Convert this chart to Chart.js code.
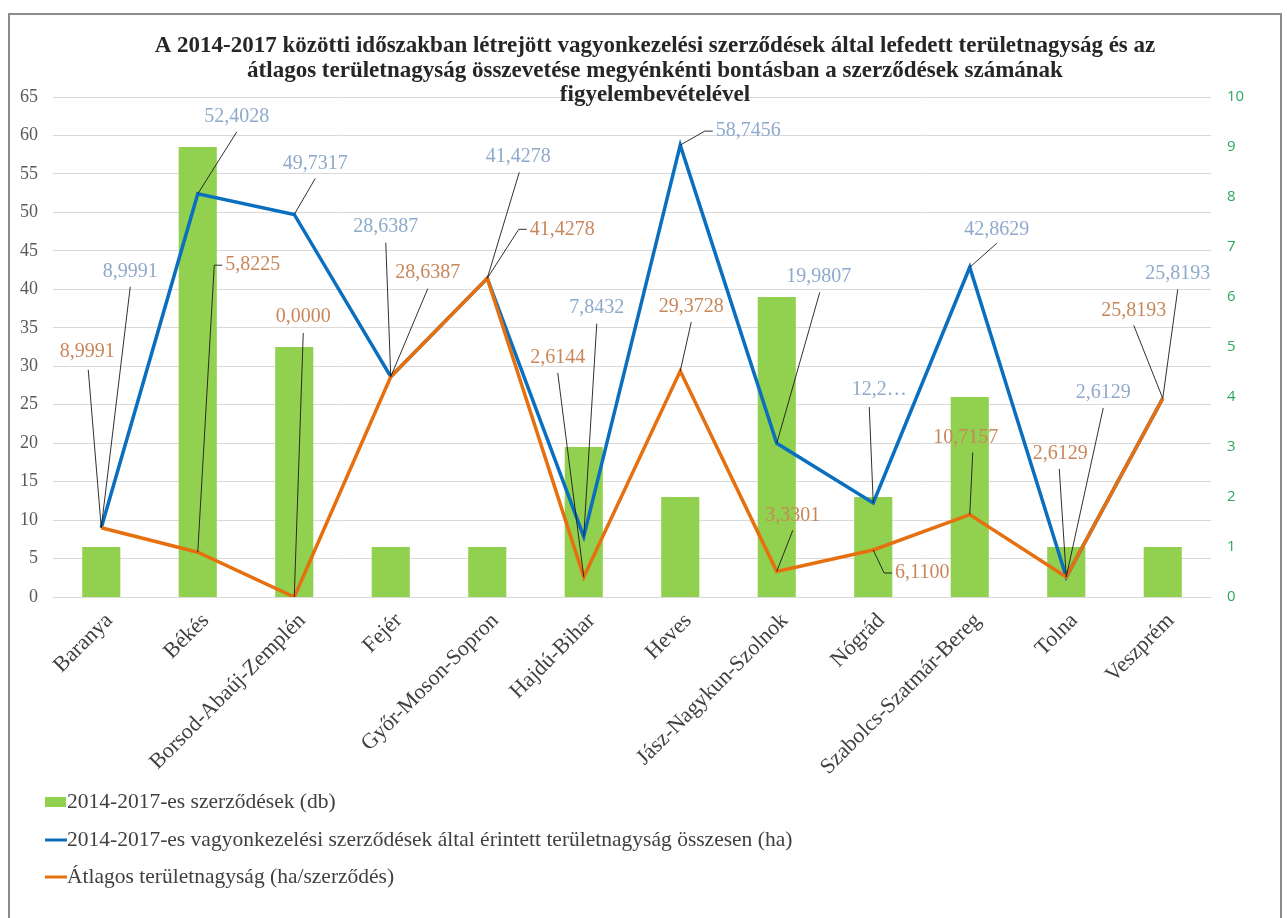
<!DOCTYPE html>
<html>
<head>
<meta charset="utf-8">
<script src="https://cdn.jsdelivr.net/npm/chart.js@4"></script>
<style>
html,body{margin:0;padding:0;background:#fff;}
canvas{display:block;}
</style>
</head>
<body>
<canvas id="c" width="1287" height="918"></canvas>
<script>
// ---- data ----
const categories = ['Baranya','Békés','Borsod-Abaúj-Zemplén','Fejér','Győr-Moson-Sopron','Hajdú-Bihar','Heves','Jász-Nagykun-Szolnok','Nógrád','Szabolcs-Szatmár-Bereg','Tolna','Veszprém'];
const contractCount = [1,9,5,1,1,3,2,6,2,4,1,1];
const totalArea = [8.9991,52.4028,49.7317,28.6387,41.4278,7.8432,58.7456,19.9807,12.22,42.8629,2.6129,25.8193];
const avgArea = [8.9991,5.8225,0.0000,28.6387,41.4278,2.6144,29.3728,3.3301,6.1100,10.7157,2.6129,25.8193];
const leftTicks = [0,5,10,15,20,25,30,35,40,45,50,55,60,65];
const rightTicks = [0,1,2,3,4,5,6,7,8,9,10];
const titleLines = ['A 2014-2017 közötti időszakban létrejött vagyonkezelési szerződések által lefedett területnagyság és az','átlagos területnagyság összevetése megyénkénti bontásban a szerződések számának','figyelembevételével'];
const seriesNames = ['2014-2017-es szerződések (db)','2014-2017-es vagyonkezelési szerződések által érintett területnagyság összesen (ha)','Átlagos területnagyság (ha/szerződés)'];
const blueLabelText = {8: '12,2…'};

// ---- label placement (offsets from the point, px) ----
// [dx, dy, leaderEndDx, leaderEndDy] ; leaderEnd null => elbow to label's left side
const blueLabelPos = [[29,-256,29,-241],[39,-77,39,-62],[21,-51,21,-36],[-5,-150,-5,-134],[31,-122,32,-106],[13,-229,13,-213],[68,-14,null,null],[42,-167,43,-151],[6,-113,-4,-96],[27,-38,27,-24],[37,-184,37,-169],[15,-125,15,-109]];
const orangeLabelPos = [[-14,-176,-13,-158],[55,-287,null,null],[9,-280,9,-264],[37,-104,37,-88],[75,-49,null,null],[-26,-219,-26,-204],[11,-64,11,-49],[16,-56,16,-41],[49,23,null,null],[-4,-77,3,-62],[-6,-123,-7,-108],[-29,-88,-29,-73]];

const SERIF = 'Liberation Serif';
const fmt = v => v.toFixed(4).replace('.', ',');

const framePlugin = {
  id:'frame',
  beforeDraw(chart){
    const c = chart.ctx;
    c.save();
    c.fillStyle='#fff'; c.fillRect(0,0,chart.width,chart.height);
    c.strokeStyle='#8c8c8c'; c.lineWidth=2;
    c.strokeRect(9,14,1272,940);
    c.restore();
  },
  afterDraw(chart){
    const c = chart.ctx;
    c.save();
    // title
    c.fillStyle='#262626';
    c.font = 'bold 23px "'+SERIF+'"';
    c.textAlign='center'; c.textBaseline='middle';
    const ty=[46,71,95];
    titleLines.forEach((t,i)=>c.fillText(t,655,ty[i]));
    // legend
    const ly=[802,840,877];
    const ds = chart.data.datasets;
    c.font = '21.5px "'+SERIF+'"';
    c.textAlign='left';
    ds.forEach((d,i)=>{
      if(d.type==='bar'){ c.fillStyle=d.backgroundColor; c.fillRect(45,ly[i]-5,21,10); }
      else { c.strokeStyle=d.borderColor; c.lineWidth=3; c.beginPath(); c.moveTo(45,ly[i]); c.lineTo(67,ly[i]); c.stroke(); }
      c.fillStyle='#404040';
      c.fillText(d.label,67,ly[i]);
    });
    c.restore();
  }
};

const labelPlugin = {
  id:'dlabels',
  afterDatasetsDraw(chart){
    const c = chart.ctx;
    c.save();
    c.font = '20px "'+SERIF+'"';
    c.textAlign='center'; c.textBaseline='middle';
    const specs = [[1, blueLabelPos, '#8eaacb', blueLabelText],[2, orangeLabelPos, '#c8875a', {}]];
    specs.forEach(([di, pos, col, over])=>{
      const meta = chart.getDatasetMeta(di);
      const data = chart.data.datasets[di].data;
      meta.data.forEach((pt,i)=>{
        const p = pos[i];
        const txt = over[i] !== undefined ? over[i] : fmt(data[i]);
        const cx = pt.x + p[0], cy = pt.y + p[1];
        const w = c.measureText(txt).width;
        c.strokeStyle='#1a1a1a'; c.lineWidth=0.9;
        c.beginPath();
        c.moveTo(pt.x, pt.y);
        if(p[2]===null){
          const lx = cx - w/2;
          c.lineTo(lx-11, cy); c.lineTo(lx-3, cy);
        } else {
          c.lineTo(pt.x+p[2], pt.y+p[3]);
        }
        c.stroke();
        c.fillStyle=col;
        c.fillText(txt, cx, cy);
      });
    });
    c.restore();
  }
};

new Chart(document.getElementById('c'), {
  type:'bar',
  data:{
    labels: categories,
    datasets:[
      {type:'bar', label:seriesNames[0], data:contractCount, backgroundColor:'#92d050', yAxisID:'y2', order:3, barPercentage:0.395, categoryPercentage:1},
      {type:'line', label:seriesNames[1], data:totalArea, borderColor:'#0a6fbf', backgroundColor:'#0a6fbf', borderWidth:3.5, pointRadius:0, tension:0, yAxisID:'y', order:2},
      {type:'line', label:seriesNames[2], data:avgArea, borderColor:'#e6700f', backgroundColor:'#e6700f', borderWidth:3.5, pointRadius:0, tension:0, yAxisID:'y', order:1}
    ]
  },
  options:{
    responsive:false, animation:false, devicePixelRatio:1,
    layout:{padding:{left:10, right:21, top:97, bottom:141}},
    plugins:{legend:{display:false}, title:{display:false}, tooltip:{enabled:false}},
    scales:{
      x:{
        grid:{display:false}, border:{display:true, color:'#d9d9d9', width:1},
        ticks:{autoSkip:false, minRotation:45, maxRotation:45, padding:3, labelOffset:8, color:'#404040', font:{family:SERIF, size:22}},
        afterFit(s){ s.height = 180; }
      },
      y:{
        position:'left', min:0, max:65,
        afterBuildTicks(s){ s.ticks = leftTicks.map(v=>({value:v})); },
        ticks:{padding:15, color:'#595959', font:{family:SERIF, size:18}},
        grid:{color:'#d9d9d9', drawTicks:false}, border:{display:false},
        afterFit(s){ s.width = 43; }
      },
      y2:{
        position:'right', min:0, max:10,
        afterBuildTicks(s){ s.ticks = rightTicks.map(v=>({value:v})); },
        ticks:{padding:16, color:'#2ea85f', font:{family:'Open Sans', size:15}},
        grid:{display:false, drawTicks:false}, border:{display:false},
        afterFit(s){ s.width = 55; }
      }
    }
  },
  plugins:[framePlugin, labelPlugin]
});
</script>
</body>
</html>
